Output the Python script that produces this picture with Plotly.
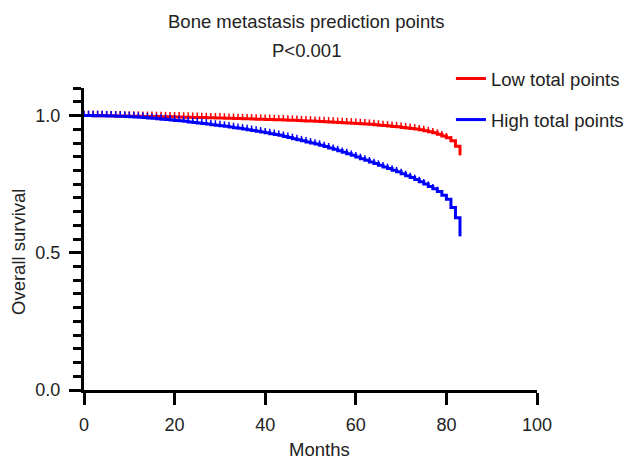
import plotly.graph_objects as go

months = list(range(0, 84))

low_points = [
    1.000, 1.000, 0.9998, 0.9996, 0.9994, 0.9992, 0.9990, 0.9988, 0.9985, 0.9982,
    0.9980, 0.9977, 0.9974, 0.9971, 0.9968, 0.9965, 0.9962, 0.9959, 0.9956, 0.9953,
    0.9950, 0.9946, 0.9942, 0.9938, 0.9934, 0.9930, 0.9926, 0.9922, 0.9918, 0.9914,
    0.9910, 0.9905, 0.9900, 0.9895, 0.9890, 0.9885, 0.9880, 0.9875, 0.9870, 0.9865,
    0.9860, 0.9855, 0.9850, 0.9845, 0.9840, 0.9833, 0.9826, 0.9819, 0.9812, 0.9805,
    0.9798, 0.9790, 0.9782, 0.9774, 0.9766, 0.9758, 0.9750, 0.9742, 0.9733, 0.9724,
    0.9715, 0.9705, 0.9695, 0.9680, 0.9665, 0.9650, 0.9635, 0.9620, 0.9605, 0.9590,
    0.9570, 0.9550, 0.9530, 0.9510, 0.9480, 0.9450, 0.9410, 0.9370, 0.9320, 0.9260,
    0.9190, 0.9080, 0.8880, 0.8550,
]

high_points = [
    1.000, 1.000, 0.9998, 0.9995, 0.9992, 0.9988, 0.9984, 0.9980, 0.9975, 0.9970,
    0.9960, 0.9950, 0.9940, 0.9930, 0.9915, 0.9900, 0.9885, 0.9870, 0.9855, 0.9840,
    0.9825, 0.9810, 0.9790, 0.9770, 0.9750, 0.9730, 0.9710, 0.9690, 0.9670, 0.9650,
    0.9630, 0.9610, 0.9585, 0.9560, 0.9535, 0.9510, 0.9485, 0.9460, 0.9430, 0.9400,
    0.9370, 0.9340, 0.9310, 0.9280, 0.9240, 0.9200, 0.9160, 0.9120, 0.9080, 0.9040,
    0.9000, 0.8960, 0.8920, 0.8870, 0.8820, 0.8770, 0.8720, 0.8660, 0.8610, 0.8550,
    0.8490, 0.8430, 0.8370, 0.8310, 0.8250, 0.8190, 0.8130, 0.8070, 0.8010, 0.7950,
    0.7880, 0.7810, 0.7740, 0.7670, 0.7590, 0.7510, 0.7420, 0.7330, 0.7230, 0.7100,
    0.6950, 0.6650, 0.6280, 0.5600,
]

series_names = ["Low total points", "High total points"]
series_colors = ["#ff0000", "#0000ff"]
title_text = "Bone metastasis prediction points"
pvalue_text = "P<0.001"
x_title = "Months"
y_title = "Overall survival"
x_ticks = [0, 20, 40, 60, 80, 100]
y_ticks = [0, 0.5, 1.0]
y_ticklabels = ["0.0", "0.5", "1.0"]

font_family = "Liberation Sans, Arial, sans-serif"
text_color = "#222222"
FS = 18.5

# plot area in pixels: left 84, right 537, top 88, bottom 390
def px_x(p):
    return (p - 84) / 453

def px_y(p):
    return (390 - p) / 302

fig = go.Figure()
for name, vals, col, grp in zip(series_names, [low_points, high_points], series_colors, ["a", "b"]):
    fig.add_trace(go.Scatter(
        x=months, y=vals, name=name, mode="lines",
        line=dict(color=col, width=3, shape="hv"),
        legendgroup=grp,
        error_y=dict(type="constant", value=0.018, valueminus=0, symmetric=False,
                     width=0, thickness=1.5, color=col),
    ))

def add_text(text, x, y, angle=0):
    fig.add_annotation(text=text, xref="paper", yref="paper", x=x, y=y,
                       showarrow=False, xanchor="center", yanchor="middle", textangle=angle,
                       font=dict(size=FS, color=text_color, family=font_family))

add_text(title_text, px_x(306.5), px_y(21))
add_text(pvalue_text, px_x(306.5), px_y(50))
add_text(x_title, px_x(319), px_y(450))
add_text(y_title, px_x(18), px_y(252), angle=-90)

axis_common = dict(
    showline=True, linecolor="black", linewidth=3, mirror=False,
    ticks="outside", ticklen=12, tickwidth=3, tickcolor="black",
    showgrid=False, zeroline=False,
    tickfont=dict(size=18, color=text_color, family=font_family),
)

fig.update_xaxes(range=[0, 100], tickvals=x_ticks, ticklabelstandoff=4, **axis_common)
fig.update_yaxes(
    range=[0, 1.1005], tickvals=y_ticks, ticktext=y_ticklabels, ticklabelstandoff=5,
    minor=dict(dtick=0.05, tick0=0, ticklen=8, tickwidth=3, tickcolor="black", ticks="outside", showgrid=False),
    **axis_common,
)

fig.update_layout(
    width=630, height=461,
    margin=dict(l=84, r=93, t=88, b=71, autoexpand=False),
    paper_bgcolor="white", plot_bgcolor="white",
    font=dict(family=font_family, color=text_color, size=FS),
    legend=dict(x=0.81, y=px_y(60), xanchor="left", yanchor="top",
                bgcolor="rgba(0,0,0,0)", font=dict(size=FS, color=text_color, family=font_family),
                tracegroupgap=14, traceorder="grouped"),
)

fig.write_html("out.html")
